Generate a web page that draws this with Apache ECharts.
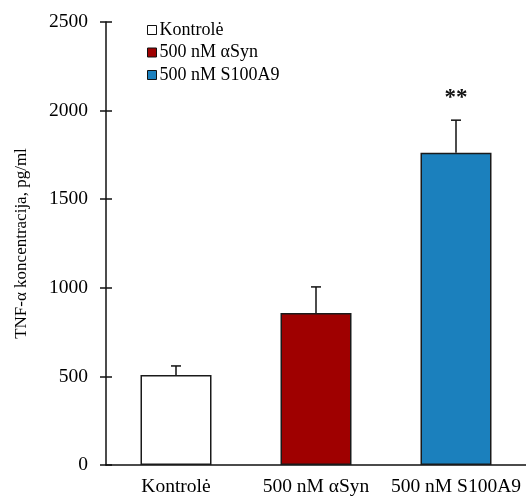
<!DOCTYPE html>
<html>
<head>
<meta charset="utf-8">
<script src="https://cdn.jsdelivr.net/npm/echarts@6/dist/echarts.min.js"></script>
<style>html,body{margin:0;padding:0;background:#fff}#c{width:526px;height:497px}</style>
</head>
<body>
<div id="c"></div>
<script>
var categories = ['Kontrolė', '500 nM αSyn', '500 nM S100A9'];
var means = [508, 858, 1762];
var errors = [51, 147, 184];
var significance = ['', '', '**'];
var colors = ['#ffffff', '#9f0000', '#1b80bd'];
var yTicks = [0, 500, 1000, 1500, 2000, 2500];

var FONT = 'Liberation Serif';
var chart = echarts.init(document.getElementById('c'), null, {renderer: 'canvas'});

var barSeries = categories.map(function (name, i) {
  return {
    name: name,
    type: 'bar',
    stack: 'all',
    barWidth: 71,
    data: categories.map(function (_, j) { return j === i ? means[j] : '-'; }),
    itemStyle: {color: colors[i], borderColor: '#1a1a1a', borderWidth: 1.5},
    emphasis: {disabled: true},
    z: 2
  };
});

var errSeries = {
  type: 'custom',
  name: 'err',
  z: 5,
  silent: true,
  data: categories.map(function (_, i) { return [i, means[i], means[i] + errors[i], significance[i]]; }),
  encode: {x: 0, y: [1, 2]},
  renderItem: function (params, api) {
    var i = api.value(0);
    var p0 = api.coord([i, api.value(1)]);
    var p1 = api.coord([i, api.value(2)]);
    var half = 5;
    var children = [
      {type: 'line', shape: {x1: p0[0], y1: p0[1], x2: p1[0], y2: p1[1]}, style: {stroke: '#111', lineWidth: 1.5}},
      {type: 'line', shape: {x1: p1[0] - half, y1: p1[1], x2: p1[0] + half, y2: p1[1]}, style: {stroke: '#111', lineWidth: 1.5}}
    ];
    var sig = significance[params.dataIndex];
    if (sig) {
      children.push({type: 'text', style: {text: sig, x: p1[0], y: p1[1] - 22, align: 'center', verticalAlign: 'middle', font: 'bold 23px ' + FONT, fill: '#111'}});
    }
    return {type: 'group', children: children};
  }
};

chart.setOption({
  animation: false,
  backgroundColor: '#fff',
  textStyle: {fontFamily: FONT, color: '#000'},
  grid: {left: 106, top: 22, width: 424, bottom: 32, containLabel: false},
  legend: {
    data: categories,
    orient: 'vertical',
    left: 142,
    top: 16,
    itemWidth: 9,
    itemHeight: 9,
    itemGap: 4.5,
    icon: 'rect',
    selectedMode: false,
    textStyle: {fontFamily: FONT, fontSize: 18, color: '#000', lineHeight: 18, padding: [0, 0, 0, -2]},
    itemStyle: {borderColor: '#111', borderWidth: 1}
  },
  xAxis: {
    type: 'category',
    data: categories,
    axisLine: {lineStyle: {color: '#111', width: 1.5}},
    axisTick: {show: false},
    axisLabel: {fontFamily: FONT, fontSize: 19.5, color: '#000', margin: 12, interval: 0}
  },
  yAxis: [{
    type: 'value',
    min: yTicks[0],
    max: yTicks[yTicks.length - 1],
    interval: yTicks[1] - yTicks[0],
    name: 'TNF-α koncentracija, pg/ml',
    nameLocation: 'middle',
    nameGap: 76,
    nameTextStyle: {fontFamily: FONT, fontSize: 17, color: '#000'},
    axisLine: {show: true, lineStyle: {color: '#111', width: 1.5}},
    axisTick: {show: true, inside: false, length: 6, lineStyle: {color: '#111', width: 1.5}},
    axisLabel: {fontFamily: FONT, fontSize: 19.5, color: '#000', margin: 18, formatter: function (v) { return String(v); }},
    splitLine: {show: false}
  }, {
    type: 'value',
    position: 'left',
    min: yTicks[0],
    max: yTicks[yTicks.length - 1],
    interval: yTicks[1] - yTicks[0],
    axisLine: {show: false},
    axisTick: {show: true, inside: true, length: 6, lineStyle: {color: '#111', width: 1.5}},
    axisLabel: {show: false},
    splitLine: {show: false}
  }],
  series: barSeries.concat([errSeries])
});
</script>
</body>
</html>
